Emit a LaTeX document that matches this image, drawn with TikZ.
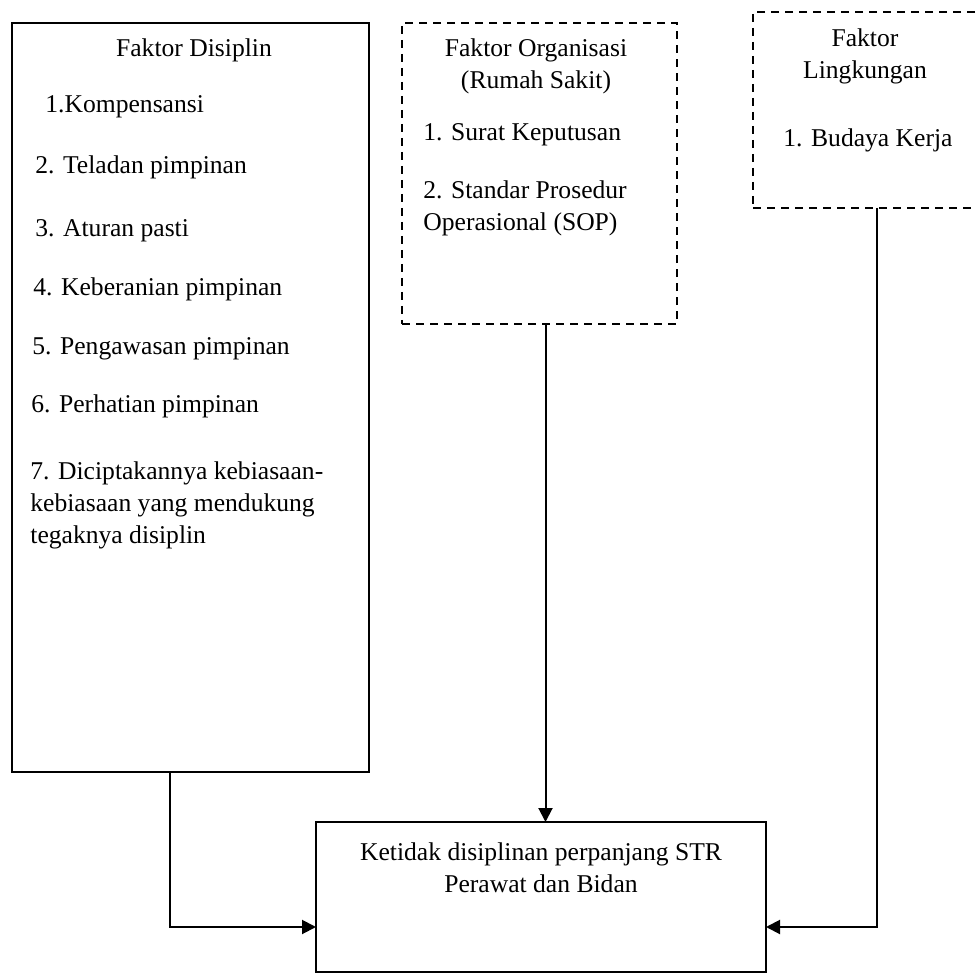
\documentclass[tikz,border=0pt]{standalone}
\usepackage{fontspec}
\setmainfont{Liberation Serif}
\usetikzlibrary{arrows.meta, positioning, calc}

\begin{document}
\begin{tikzpicture}[
  x=0.5pt, y=-0.5pt,
  solidbox/.style={rectangle, draw=black, line width=1pt, inner sep=0pt, outer sep=0pt},
  dashbox/.style={rectangle, draw=black, line width=0.9pt, dash pattern=on 4pt off 3pt,
    inner sep=0pt, outer sep=0pt},
  txt/.style={inner sep=0pt, font=\fontsize{12.8}{16}\selectfont},
  arrow/.style={-{Triangle[length=7pt, width=7pt]}, line width=1pt}
]
\useasboundingbox (0,0) rectangle (976,974);

% kotak-kotak
\node (dis) [solidbox, minimum width=178.5pt, minimum height=374.5pt] at (190.5,397.5) {};
\node (org) [dashbox, minimum width=137.5pt, minimum height=150.5pt] at (539.5,173.5) {};
\node (env) [dashbox, minimum width=118.5pt, minimum height=98pt] at (871.5,110) {};
\node (res) [solidbox, minimum width=225pt, minimum height=75pt] at (541,897) {};

% Faktor Disiplin
\node (distitle) [txt, anchor=base] at (194,57) {Faktor Disiplin};
\node (dis1) [txt, anchor=base west] at (45,113) {1.Kompensansi};
\node (dis2) [txt, anchor=base west] at (35,174) {2. Teladan pimpinan};
\node (dis3) [txt, anchor=base west] at (35,237) {3. Aturan pasti};
\node (dis4) [txt, anchor=base west] at (33,295) {4. Keberanian pimpinan};
\node (dis5) [txt, anchor=base west] at (32,354) {5. Pengawasan pimpinan};
\node (dis6) [txt, anchor=base west] at (31,412) {6. Perhatian pimpinan};
\node (dis7) [txt, anchor=north west, align=left] at (30,461)
  {7. Diciptakannya kebiasaan-\\kebiasaan yang mendukung\\tegaknya disiplin};

% Faktor Organisasi
\node (orgtitle) [txt, anchor=north, align=center] at (536,38)
  {Faktor Organisasi\\(Rumah Sakit)};
\node (org1) [txt, anchor=base west] at (423,141) {1. Surat Keputusan};
\node (org2) [txt, anchor=north west, align=left] at (423,180)
  {2. Standar Prosedur\\Operasional (SOP)};

% Faktor Lingkungan
\node (envtitle) [txt, anchor=north, align=center] at (865,28) {Faktor\\Lingkungan};
\node (env1) [txt, anchor=base west] at (783,147) {1. Budaya Kerja};

% Hasil
\node (restitle) [txt, anchor=north, align=center] at (541,842)
  {Ketidak disiplinan perpanjang STR\\Perawat dan Bidan};

% panah
\coordinate (disout) at ([xshift=-10.25pt]dis.south);
\coordinate (orgout) at ([xshift=3pt]org.south);
\coordinate (envout) at ([xshift=2.75pt]env.south);
\draw [arrow] (disout) |- ([yshift=-15pt]res.west);
\draw [arrow] (orgout) -- (orgout |- res.north);
\draw [arrow] (envout) |- ([yshift=-15pt]res.east);

\end{tikzpicture}
\end{document}
